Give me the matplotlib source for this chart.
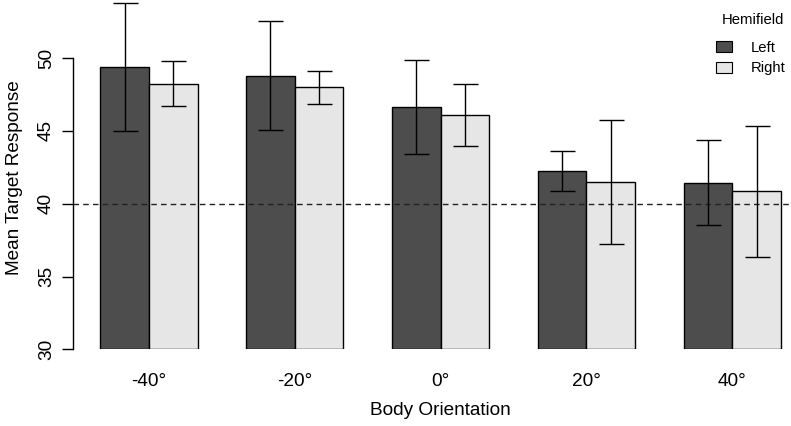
import numpy as np
import matplotlib.pyplot as plt
from matplotlib.patches import Patch

plt.rcParams['font.family'] = ['Liberation Sans', 'DejaVu Sans']

# data
orientations = ['-40°', '-20°', '0°', '20°', '40°']
left_mean = [49.4, 48.8, 46.65, 42.25, 41.45]
left_err = [4.4, 3.75, 3.25, 1.35, 2.9]
right_mean = [48.25, 48.0, 46.1, 41.5, 40.85]
right_err = [1.55, 1.15, 2.1, 4.25, 4.5]
chance = 40

dark = '#4d4d4d'
light = '#e6e6e6'

fig = plt.figure(figsize=(7.91, 4.26), dpi=100)
ax = fig.add_axes([0.0924, 0.18, 0.9292, 0.82])

# R barplot(beside=TRUE) layout: 2 bars per group, 1 bar-width gap
grp = np.arange(len(orientations)) * 3
xl = grp + 1.5
xr = grp + 2.5

ax.bar(xl, np.array(left_mean) - 30, bottom=30, width=1, color=dark,
       edgecolor='black', linewidth=1, zorder=2)
ax.bar(xr, np.array(right_mean) - 30, bottom=30, width=1, color=light,
       edgecolor='black', linewidth=1, zorder=2)

ax.axhline(chance, color='#222222', lw=1, ls=(0, (4, 3)), zorder=3)

ax.errorbar(xl, left_mean, yerr=left_err, fmt='none', ecolor='black',
            elinewidth=1, capsize=9, capthick=1, zorder=4)
ax.errorbar(xr, right_mean, yerr=right_err, fmt='none', ecolor='black',
            elinewidth=1, capsize=9, capthick=1, zorder=4)

ax.set_xlim(0.44, 15.56)
ax.set_ylim(30, 54.0)

for s in ['top', 'right', 'bottom']:
    ax.spines[s].set_visible(False)
ax.spines['left'].set_bounds(30, 50)
ax.spines['left'].set_linewidth(1)

ax.set_yticks([30, 35, 40, 45, 50])
ax.tick_params(axis='y', length=8, width=1, labelsize=13.7, pad=5)
for lab in ax.get_yticklabels():
    lab.set_rotation(90)
    lab.set_va('center')

ax.set_xticks(grp + 2)
ax.set_xticklabels(orientations)
ax.tick_params(axis='x', length=0, labelsize=13.7, pad=17)

fig.text(15 / 791, 1 - 178 / 426, 'Mean Target Response', rotation=90,
         ha='center', va='center', fontsize=13.7)
fig.text(440.8 / 791, 1 - 410.7 / 426, 'Body Orientation',
         ha='center', va='center', fontsize=13.7)

# legend (title placed separately to get R's spacing)
fig.text(752.5 / 791, 1 - 20 / 426, 'Hemifield', ha='center', va='center',
         fontsize=10.7)
handles = [Patch(facecolor=dark, edgecolor='black', lw=0.8),
           Patch(facecolor=light, edgecolor='black', lw=0.8)]
fig.legend(handles, ['Left', 'Right'], frameon=False,
           loc='upper left', bbox_to_anchor=(715.5 / 791, 1 - 41 / 426),
           fontsize=10.7, handlelength=1.1,
           handleheight=0.75, handletextpad=1.25, labelspacing=0.42,
           borderpad=0, borderaxespad=0)

fig.savefig('out.png', dpi=100)
